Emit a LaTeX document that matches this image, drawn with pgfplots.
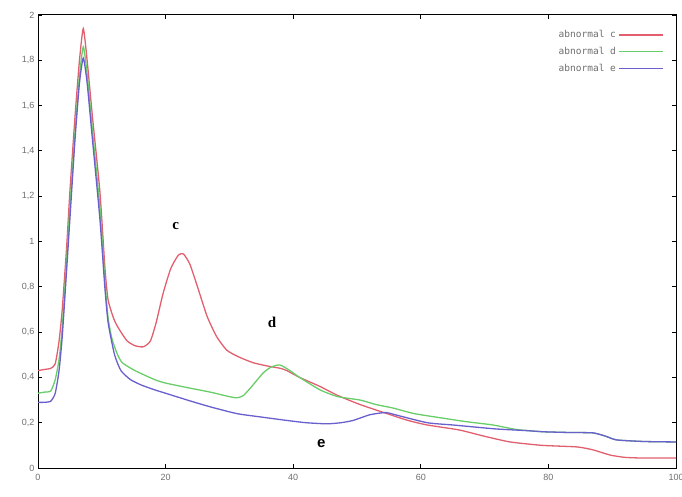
\documentclass[border=0pt]{standalone}
\usepackage{pgfplots}
\pgfplotsset{compat=1.18}
\usepackage{fontspec}
\setmainfont{Liberation Serif}
\newfontfamily\sansf{Liberation Sans}
\newfontfamily\monof{DejaVu Sans Mono}
\definecolor{cred}{RGB}{225,95,110}
\definecolor{cgreen}{RGB}{105,205,105}
\definecolor{cblue}{RGB}{105,95,205}
\definecolor{tickgray}{RGB}{110,110,110}
\begin{document}
\begin{tikzpicture}
\useasboundingbox (-38pt,-28pt) rectangle (644pt,468pt);
\begin{axis}[
  scale only axis,
  width=638pt, height=453pt,
  xmin=0, xmax=100, ymin=0, ymax=2,
  xtick={0,20,40,60,80,100},
  ytick={0,0.2,0.4,0.6,0.8,1,1.2,1.4,1.6,1.8,2},
  tick align=inside,
  major tick length=4pt,
  tick style={black, line width=0.8pt},
  axis line style={black, line width=1pt},
  /pgf/number format/use comma,
  /pgf/number format/assume math mode=true,
  ticklabel style={font=\sansf\fontsize{9}{10}\selectfont, text=tickgray},
  xticklabel style={yshift=-3pt},
  legend style={draw=none, fill=none, at={(rel axis cs:0.985,0.975)}, anchor=north east,
    font=\monof\fontsize{9.5}{10}\selectfont, text=tickgray, row sep=4pt},
  legend cell align=right,
  legend plot pos=right,
  legend image code/.code={\path (0pt,0pt) -- (44pt,0pt); \draw[#1, line width=1pt] (10pt,0pt) -- (44pt,0pt);},
  every axis plot/.append style={line width=1.3pt, smooth, tension=0.35},
]
\addplot[cred] coordinates {
(0,0.43)(1,0.435)(2,0.44)(2.7,0.46)(3.3,0.56)(3.8,0.70)(4.5,0.98)(5,1.22)(5.8,1.55)(6.5,1.80)(7.1,1.94)(7.7,1.80)(8.5,1.56)(9.7,1.22)(10.5,0.88)(11,0.74)(12,0.65)(13,0.60)(14,0.56)(15.2,0.54)(16.5,0.535)(17.6,0.56)(18.5,0.64)(19.6,0.77)(20.8,0.88)(22,0.94)(22.8,0.945)(23.8,0.90)(25,0.80)(26.5,0.67)(28,0.58)(29.6,0.52)(31.5,0.49)(33.7,0.465)(36,0.45)(38,0.44)(39,0.43)(41,0.40)(44.2,0.36)(47,0.32)(50.5,0.28)(54.7,0.24)(58,0.21)(61,0.19)(66,0.168)(70,0.14)(74,0.115)(79,0.10)(84.5,0.093)(87,0.08)(89.7,0.057)(92,0.047)(94.8,0.044)(100,0.044)
};
\addlegendentry{abnormal c}
\addplot[cgreen] coordinates {
(0,0.33)(1,0.335)(2,0.34)(2.7,0.39)(3.3,0.48)(3.8,0.62)(4.5,0.92)(5,1.15)(5.8,1.48)(6.5,1.73)(7.1,1.86)(7.7,1.74)(8.5,1.50)(9.7,1.15)(10.5,0.82)(11,0.66)(11.6,0.57)(12.4,0.505)(13.2,0.465)(15.2,0.43)(18.3,0.39)(20,0.375)(23.4,0.355)(27,0.335)(30,0.315)(31.2,0.31)(32.2,0.32)(33.5,0.36)(35.3,0.42)(36.5,0.445)(37.9,0.455)(39.5,0.43)(41,0.40)(44.2,0.345)(47,0.315)(50.5,0.30)(53,0.28)(55.6,0.265)(59,0.24)(63.5,0.22)(67,0.205)(71.3,0.19)(75,0.17)(79.2,0.16)(83,0.157)(87,0.155)(89,0.14)(90.7,0.124)(95,0.117)(100,0.115)
};
\addlegendentry{abnormal d}
\addplot[cblue] coordinates {
(0,0.29)(1,0.29)(2,0.295)(2.7,0.33)(3.3,0.43)(3.8,0.58)(4.5,0.88)(5,1.10)(5.8,1.45)(6.5,1.70)(7.1,1.81)(7.7,1.70)(8.5,1.46)(9.7,1.10)(10.5,0.79)(11,0.64)(12,0.50)(13,0.43)(14.5,0.39)(16.3,0.365)(18.3,0.345)(20,0.33)(23.4,0.30)(27,0.27)(31.2,0.24)(35,0.225)(39,0.21)(42,0.20)(45.3,0.195)(47.5,0.20)(49.4,0.21)(52,0.235)(54.5,0.245)(56,0.235)(61,0.20)(65,0.19)(68.8,0.18)(72,0.172)(76.6,0.165)(79.2,0.16)(83,0.157)(87,0.155)(89,0.14)(90.7,0.124)(95,0.117)(100,0.115)
};
\addlegendentry{abnormal e}
\node[font=\bfseries\fontsize{15}{16}\selectfont] at (axis cs:21.6,1.07) {c};
\node[font=\bfseries\fontsize{15}{16}\selectfont] at (axis cs:36.7,0.645) {d};
\node[font=\sansf\bfseries\fontsize{15}{16}\selectfont] at (axis cs:44.4,0.11) {e};
\end{axis}
\end{tikzpicture}
\end{document}
